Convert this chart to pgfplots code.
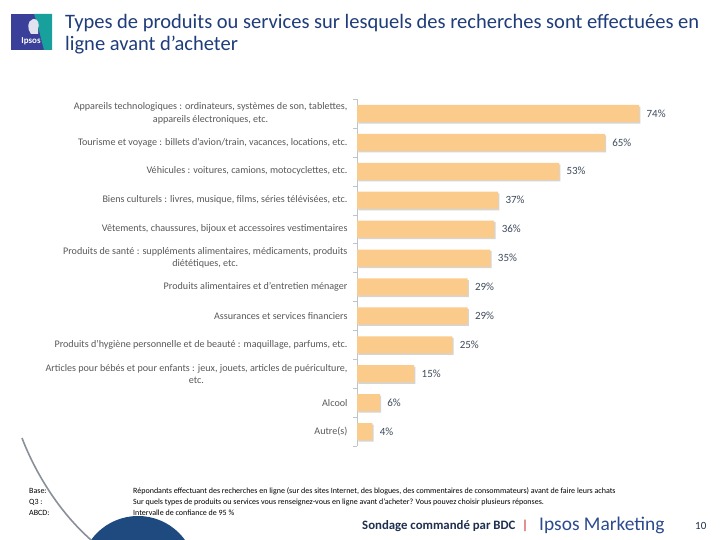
\documentclass[border=0pt]{standalone}
\usepackage{pgfplots}
\pgfplotsset{compat=1.18}
\usepackage{fontspec}
\setmainfont{Carlito}
\definecolor{barcol}{HTML}{FBCB8C}
\definecolor{shadowcol}{HTML}{D9D4CC}
\definecolor{axisgray}{HTML}{BFC4CC}
\definecolor{labgray}{HTML}{595959}
\definecolor{valcol}{HTML}{3F4B5C}
\definecolor{titleblue}{HTML}{1F3D7A}
\definecolor{ipsosblue}{HTML}{2C4A8E}
\definecolor{circblue}{HTML}{1F4A80}
\definecolor{logoblue}{HTML}{3A3F9A}
\definecolor{logoteal}{HTML}{17A09C}
\definecolor{footdark}{HTML}{1F2F4F}
\definecolor{arcgray}{HTML}{8A9099}
\begin{document}
\begin{tikzpicture}
\useasboundingbox (0pt,0pt) rectangle (720pt,540pt);
\fill[white] (0pt,0pt) rectangle (720pt,540pt);
\begin{scope}[x=1pt,y=1pt]
\begin{scope}
\clip (0,0) rectangle (720,540);
\fill[circblue] (138,-34) circle (58pt);
\draw[arcgray, line width=1.6pt] (22,102) .. controls (35,68) and (60,25) .. (97,-5);
\end{scope}
% logo
\fill[logoblue] (11,490) rectangle (52,526);
\fill[logoteal] (34,526) -- (52,526) -- (52,490) -- (44,490) .. controls (40,505) and (38,515) .. (34,526) -- cycle;
\fill[white!85!logoblue] (31,506) .. controls (27,511) and (27,519) .. (33,521) .. controls (38,522) and (40,516) .. (38,511) -- (38,506) -- cycle;
\node[text=white, font=\bfseries\fontsize{9}{9}\selectfont, inner sep=0] at (31,499) {Ipsos};
% title
\node[anchor=north west, align=left, font=\fontsize{20.5}{22}\selectfont, text=titleblue, inner sep=0] at (65,526) {Types de produits ou services sur lesquels des recherches sont effectuées en\\ligne avant d’acheter};
% footer
\begin{scope}[every node/.style={anchor=west, inner sep=0, font=\fontsize{8}{8}\selectfont, text=black}]
\node at (29,49) {Base:};
\node at (29,38) {Q3 :};
\node at (29,27) {ABCD:};
\node at (133,49) {Répondants effectuant des recherches en ligne (sur des sites Internet, des blogues, des commentaires de consommateurs) avant de faire leurs achats};
\node at (133,38) {Sur quels types de produits ou services vous renseignez-vous en ligne avant d’acheter? Vous pouvez choisir plusieurs réponses.};
\node at (133,27) {Intervalle de confiance de 95 \%};
\end{scope}
\node[anchor=west, inner sep=0, font=\bfseries\fontsize{12.8}{13}\selectfont, text=footdark] at (362,14) {Sondage commandé par BDC};
\node[anchor=west, inner sep=0, font=\fontsize{13}{13}\selectfont, text=red!75!black] at (522,14) {|};
\node[anchor=west, inner sep=0, font=\fontsize{19.4}{19}\selectfont, text=ipsosblue] at (539,15) {Ipsos Marketing};
\node[anchor=west, inner sep=0, font=\fontsize{11}{12}\selectfont, text=footdark] at (695,14) {10};
\end{scope}
\begin{axis}[at={(357pt,441pt)}, anchor=north west, scale only axis,
  width=305pt, height=347pt,
  xmin=0, xmax=80, ymin=-0.5, ymax=11.5, y dir=reverse,
  xbar, bar width=17pt,
  axis x line=none, axis y line*=left,
  y axis line style={draw=axisgray},
  /pgf/number format/assume math mode=true,
  ytick={0,...,11},
  yticklabels={{Appareils technologiques : ordinateurs, systèmes de son, tablettes,\\appareils électroniques, etc.},
    {Tourisme et voyage : billets d’avion/train, vacances, locations, etc.},
    {Véhicules : voitures, camions, motocyclettes, etc.},
    {Biens culturels : livres, musique, films, séries télévisées, etc.},
    {Vêtements, chaussures, bijoux et accessoires vestimentaires},
    {Produits de santé : suppléments alimentaires, médicaments, produits\\diététiques, etc.},
    {Produits alimentaires et d’entretien ménager},
    {Assurances et services financiers},
    {Produits d’hygiène personnelle et de beauté : maquillage, parfums, etc.},
    {Articles pour bébés et pour enfants : jeux, jouets, articles de puériculture,\\etc.},
    {Alcool},
    {Autre(s)}},
  major tick length=0pt,
  minor ytick={-0.5,0.5,...,11.5},
  minor tick length=4pt,
  tick align=outside,
  minor tick style={draw=axisgray},
  yticklabel style={font=\fontsize{10.1}{12.3}\selectfont, align=center, text=labgray, anchor=east, xshift=-6pt},
  clip=false]
\addplot[fill=shadowcol, draw=none, xshift=1.3pt, yshift=-1.6pt, forget plot] coordinates {
(74,0) (65,1) (53,2) (37,3) (36,4) (35,5) (29,6) (29,7) (25,8) (15,9) (6,10) (4,11)};
\addplot[fill=barcol, draw=none,
  nodes near coords={\pgfmathprintnumber{\pgfplotspointmeta}\%},
  nodes near coords style={font=\fontsize{11}{12}\selectfont, text=valcol, xshift=4pt}] coordinates {
(74,0) (65,1) (53,2) (37,3) (36,4) (35,5) (29,6) (29,7) (25,8) (15,9) (6,10) (4,11)};
\end{axis}
\end{tikzpicture}
\end{document}
